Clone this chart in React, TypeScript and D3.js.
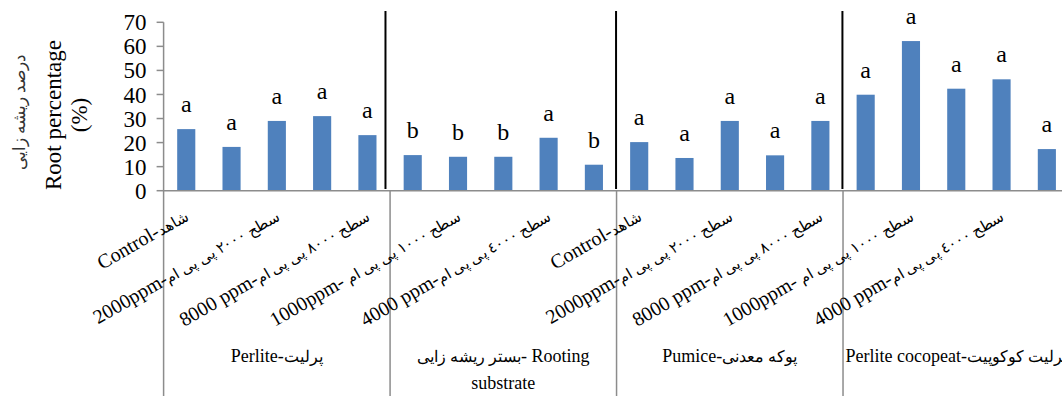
import React from "react";
import * as d3 from "d3";

const WIDTH = 1062;
const HEIGHT = 396;

// Root percentage per treatment, 5 treatments for each of 4 substrates
const rootPercent = [
  25.6, 18.2, 29.0, 31.0, 23.1,
  14.8, 14.1, 14.1, 22.0, 10.8,
  20.2, 13.6, 29.0, 14.7, 29.0,
  39.9, 62.2, 42.4, 46.3, 17.3,
];

// Mean-comparison letters shown above each bar
const significance = [
  "a", "a", "a", "a", "a",
  "b", "b", "b", "a", "b",
  "a", "a", "a", "a", "a",
  "a", "a", "a", "a", "a",
];

// Substrate group names (second axis level); each entry is a list of lines
const substrates = [
  ["Perlite-پرلیت"],
  ["بستر ریشه زایی- Rooting", "substrate"],
  ["Pumice-پوکه معدنی"],
  ["Perlite cocopeat-پرلیت کوکوپیت"],
];

// Treatment labels printed on every second category
const treatmentLabels = [
  "Control-شاهد",
  "2000ppm-سطح ٢٠٠٠ پی پی ام",
  "8000 ppm-سطح ٨٠٠٠ پی پی ام",
  "1000ppm- سطح ١٠٠٠ پی پی ام",
  "4000 ppm-سطح ٤٠٠٠ پی پی ام",
  "Control-شاهد",
  "2000ppm-سطح ٢٠٠٠ پی پی ام",
  "8000 ppm-سطح ٨٠٠٠ پی پی ام",
  "1000ppm- سطح ١٠٠٠ پی پی ام",
  "4000 ppm-سطح ٤٠٠٠ پی پی ام",
];

const yTicks = [0, 10, 20, 30, 40, 50, 60, 70];

// Hand-drawn divider lines between substrates, small horizontal nudges
const dividerShift = [-4.6, -0.5, -0.6];

const SERIF = "'Times New Roman', 'Liberation Serif', 'DejaVu Serif', serif";
const BAR = "#4F81BD";
const AXIS = "#8C8C8C";

// Split a mixed Latin/Persian string into runs so the Persian script can be sized separately
const ARABIC_RUN = /([\u0600-\u06FF](?:[\u0600-\u06FF\s]*[\u0600-\u06FF])?)/;
function runs(s: string) {
  return s
    .split(ARABIC_RUN)
    .filter((p) => p.length > 0)
    .map((p) => ({ text: p, fa: /[\u0600-\u06FF]/.test(p) }));
}

function Mixed({ s, size, faSize }: { s: string; size: number; faSize: number }) {
  return (
    <>
      {runs(s).map((r, i) => (
        <tspan key={i} fontSize={r.fa ? faSize : size}>
          {r.text}
        </tspan>
      ))}
    </>
  );
}

export default function App() {
  const plotLeft = 163.6;
  const plotRight = 1069.5;
  const plotTop = 22.3;
  const plotBottom = 190.7;

  const x = d3
    .scaleBand<number>()
    .domain(d3.range(rootPercent.length))
    .range([plotLeft, plotRight])
    .paddingInner(0.6)
    .paddingOuter(0.3);

  const y = d3.scaleLinear().domain([0, 70]).range([plotBottom, plotTop]);

  const perGroup = rootPercent.length / substrates.length;
  const boundary = (k: number) => plotLeft + k * perGroup * x.step();
  const center = (i: number) => (x(i) ?? 0) + x.bandwidth() / 2;

  return (
    <svg
      width={WIDTH}
      height={HEIGHT}
      style={{ position: "absolute", left: 0, top: 0, background: "#fff" }}
      fontFamily={SERIF}
    >
      {/* y-axis titles */}
      <text
        transform={`translate(25,112) rotate(-90)`}
        textAnchor="middle"
        fontSize={17}
        fill="#333"
      >
        درصد ریشه زایی
      </text>
      <text
        transform={`translate(61,115) rotate(-90)`}
        textAnchor="middle"
        fontSize={23}
        fill="#000"
      >
        Root percentage
      </text>
      <text
        transform={`translate(87,115) rotate(-90)`}
        textAnchor="middle"
        fontSize={23}
        fill="#000"
      >
        (%)
      </text>

      {/* y axis with ticks */}
      <line x1={plotLeft} x2={plotLeft} y1={plotTop} y2={HEIGHT} stroke={AXIS} strokeWidth={1.5} />
      {yTicks.map((t) => (
        <g key={t}>
          <line x1={plotLeft - 7} x2={plotLeft} y1={y(t)} y2={y(t)} stroke={AXIS} strokeWidth={1.5} />
          <text x={plotLeft - 17} y={y(t)} dy="0.35em" textAnchor="end" fontSize={23} fill="#000">
            {t}
          </text>
        </g>
      ))}

      {/* bars */}
      {rootPercent.map((v, i) => (
        <rect
          key={i}
          x={x(i)}
          y={y(v)}
          width={x.bandwidth()}
          height={y(0) - y(v)}
          fill={BAR}
        />
      ))}

      {/* significance letters */}
      {rootPercent.map((v, i) => (
        <text
          key={i}
          x={center(i)}
          y={y(v) - 17}
          textAnchor="middle"
          fontSize={24}
          fill="#000"
        >
          {significance[i]}
        </text>
      ))}

      {/* x axis */}
      <line x1={plotLeft} x2={plotRight} y1={plotBottom} y2={plotBottom} stroke={AXIS} strokeWidth={1.5} />
      {d3.range(1, substrates.length + 1).map((k) => (
        <line
          key={k}
          x1={boundary(k)}
          x2={boundary(k)}
          y1={plotBottom}
          y2={HEIGHT}
          stroke={AXIS}
          strokeWidth={1.5}
        />
      ))}

      {/* black dividers between substrates */}
      {dividerShift.map((s, k) => (
        <line
          key={k}
          x1={boundary(k + 1) + s}
          x2={boundary(k + 1) + s}
          y1={11}
          y2={189}
          stroke="#000"
          strokeWidth={2}
        />
      ))}

      {/* treatment labels */}
      {treatmentLabels.map((label, j) => {
        const cx = center(j * 2) + 4;
        const cy = 219;
        return (
          <text
            key={j}
            transform={`translate(${cx},${cy}) rotate(-30)`}
            textAnchor="end"
            fill="#000"
          >
            <Mixed s={label} size={20} faSize={15} />
          </text>
        );
      })}

      {/* substrate group labels */}
      {substrates.map((lines, k) => {
        const gx = (boundary(k) + boundary(k + 1)) / 2;
        return lines.map((ln, li) => (
          <text
            key={`${k}-${li}`}
            x={gx}
            y={362 + li * 27}
            textAnchor="middle"
            fill="#000"
          >
            <Mixed s={ln} size={18} faSize={16} />
          </text>
        ));
      })}
    </svg>
  );
}
